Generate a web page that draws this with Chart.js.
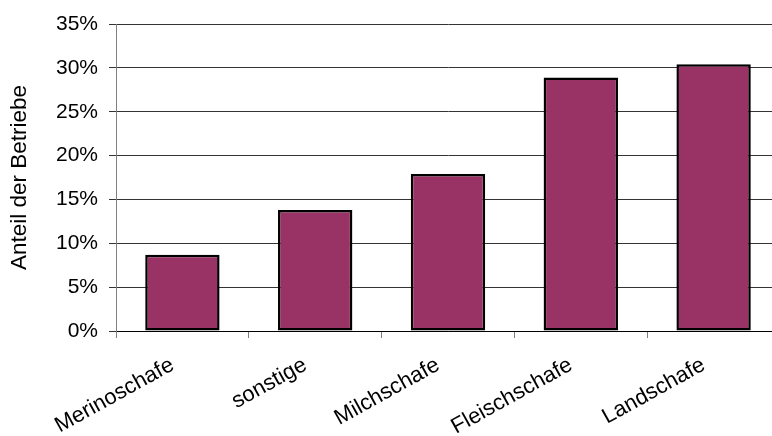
<!DOCTYPE html>
<html>
<head>
<meta charset="utf-8">
<script src="https://cdn.jsdelivr.net/npm/chart.js@4/dist/chart.umd.min.js"></script>
<style>
  html, body { margin: 0; padding: 0; background: #fff; overflow: hidden; }
  #wrap { width: 772px; height: 436px; overflow: hidden; }
  canvas { display: block; }
</style>
</head>
<body>
<div id="wrap"><canvas id="rassen" width="800" height="436"></canvas></div>
<script>
const rassen = ['Merinoschafe', 'sonstige', 'Milchschafe', 'Fleischschafe', 'Landschafe'];
const anteil = [8.7, 13.8, 17.9, 28.9, 30.4];
const yTicks = [0, 5, 10, 15, 20, 25, 30, 35];

const ctx = document.getElementById('rassen');
Chart.defaults.font.family = "'Liberation Sans', Arial, sans-serif";
Chart.defaults.color = '#000';

const chart = new Chart(ctx, {
  type: 'bar',
  data: {
    labels: rassen,
    datasets: [{
      label: 'Anteil der Betriebe',
      data: anteil,
      backgroundColor: '#993366',
      borderColor: '#000',
      borderWidth: 2.5,
      borderSkipped: false,
      categoryPercentage: 1,
      barPercentage: 0.56
    }]
  },
  options: {
    responsive: false,
    animation: false,
    layout: { padding: { top: 24, right: 20, left: 6, bottom: 0 } },
    plugins: {
      legend: { display: false },
      tooltip: { enabled: false }
    },
    scales: {
      x: {
        // fixed height so the zero line sits where it should
        afterFit: axis => { axis.height = 105; },
        grid: { drawOnChartArea: false, drawTicks: true, tickLength: 7, color: '#808080' },
        border: { color: '#000', width: 1 },
        ticks: {
          font: { size: 22 },
          minRotation: 29,
          maxRotation: 29,
          padding: 14,
          labelOffset: -10
        }
      },
      y: {
        min: 0,
        max: 35,
        afterBuildTicks: axis => { axis.ticks = yTicks.map(v => ({ value: v })); },
        afterFit: axis => { axis.width = 110; },
        grid: { color: '#333', tickLength: 7, lineWidth: 1 },
        border: { color: '#808080', width: 1 },
        ticks: {
          font: { size: 21 },
          padding: 11,
          callback: v => v + '%'
        },
        title: {
          display: true,
          text: 'Anteil der Betriebe',
          font: { size: 22.5 },
          padding: { top: 0, bottom: 0 }
        }
      }
    }
  }
});
</script>
</body>
</html>
